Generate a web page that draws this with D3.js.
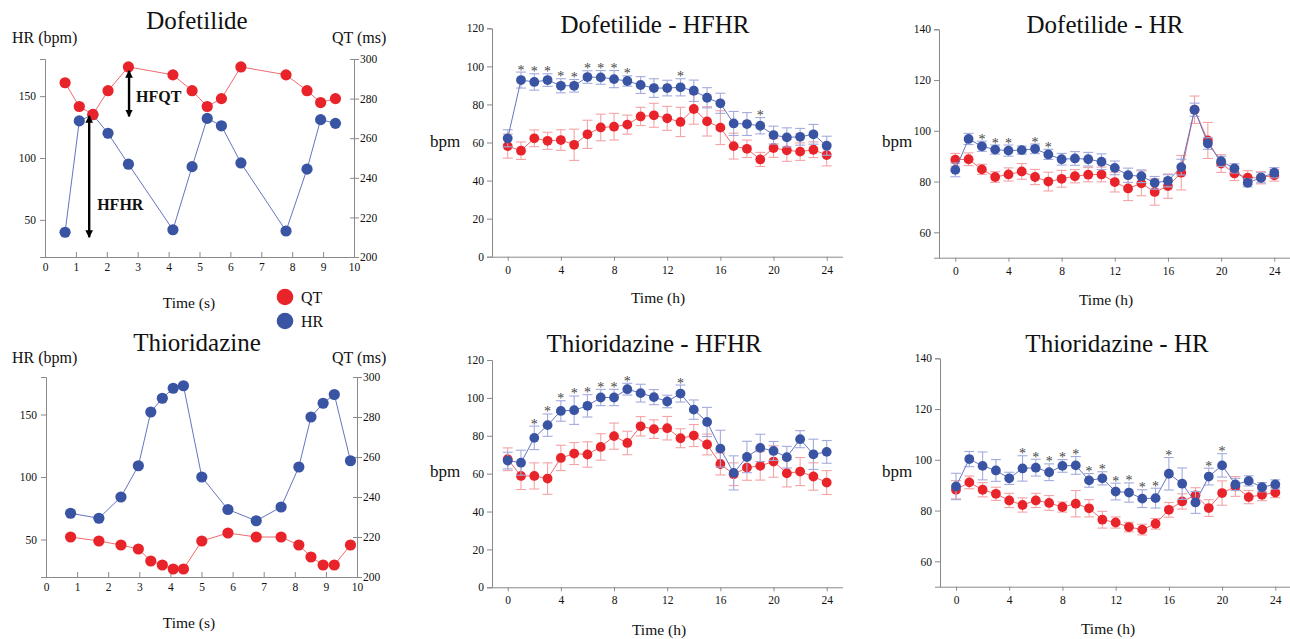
<!DOCTYPE html>
<html>
<head>
<meta charset="utf-8">
<script src="https://cdn.jsdelivr.net/npm/d3@7/dist/d3.min.js"></script>
<style>
  body { margin: 0; background: #fff; }
  text { font-family: "Liberation Serif", "Times New Roman", serif; fill: #111; }
</style>
</head>
<body>
<svg id="chart" width="1290" height="639"></svg>
<script>
// ---- data ----
// single-beat traces (left column)
const dofTime = [0.65, 1.11, 1.55, 2.04, 2.70, 4.14, 4.76, 5.25, 5.71, 6.34, 7.80, 8.48, 8.92, 9.40];
const dofHR   = [40, 130, 135, 120, 95, 42, 93, 132, 126, 96, 41, 91, 131, 128];
const dofQT   = [288, 276, 272, 284, 296, 292, 284, 276, 280, 296, 292, 284, 278, 280];

const thioTime = [0.79, 1.70, 2.41, 2.97, 3.37, 3.74, 4.09, 4.42, 5.01, 5.85, 6.76, 7.56, 8.13, 8.52, 8.91, 9.27, 9.79];
const thioHR   = [71, 67, 84, 109, 152, 163, 171, 173, 100, 74, 65, 76, 108, 148, 159, 166, 113];
const thioQT   = [220, 218, 216, 214, 208, 206, 204, 204, 218, 222, 220, 220, 216, 210, 206, 206, 216];

// hourly means (blue / red) with error bars
const hours = [0, 1, 2, 3, 4, 5, 6, 7, 8, 9, 10, 11, 12, 13, 14, 15, 16, 17, 18, 19, 20, 21, 22, 23, 24];
const hourTicks = [0, 4, 8, 12, 16, 20, 24];

const dofHfhrBlue    = [62.2, 92.8, 91.8, 92.8, 89.8, 89.8, 94.4, 94.2, 93.3, 92.3, 90.2, 88.6, 88.6, 89.0, 87.2, 83.5, 80.6, 70.0, 69.7, 68.8, 63.9, 62.7, 63.0, 64.3, 58.3];
const dofHfhrBlueErr = [4.5, 4.2, 4.3, 3.3, 3.7, 3.3, 3.3, 3.6, 4.5, 2.7, 4.4, 4.9, 4.1, 4.5, 5.6, 5.3, 5.3, 6.3, 6.0, 4.3, 4.7, 5.0, 4.4, 5.2, 5.0];
const dofHfhrRed     = [58.1, 55.7, 62.2, 60.9, 61.3, 58.8, 64.3, 67.9, 68.3, 69.4, 73.7, 74.3, 72.7, 70.8, 77.6, 71.1, 67.8, 58.1, 56.7, 51.1, 57.1, 55.9, 55.2, 56.2, 53.4];
const dofHfhrRedErr  = [6.3, 4.6, 4.4, 4.5, 5.4, 8.2, 7.4, 7.0, 7.0, 5.0, 4.8, 6.3, 6.3, 7.7, 8.0, 7.7, 8.9, 6.8, 4.6, 3.7, 4.9, 5.8, 4.6, 4.1, 5.7];
const dofHfhrStars   = [1, 2, 3, 4, 5, 6, 7, 8, 9, 13, 19];

const thioHfhrBlue    = [66.9, 65.8, 78.9, 85.6, 93.1, 93.5, 95.8, 100.2, 100.2, 104.6, 102.5, 100.4, 98.1, 102.3, 93.8, 87.3, 73.2, 60.4, 68.8, 73.6, 72.0, 68.7, 78.2, 70.2, 71.5];
const thioHfhrBlueErr = [4.4, 6.6, 6.2, 5.9, 5.4, 7.5, 5.9, 4.3, 4.3, 3.1, 4.7, 4.0, 3.3, 4.5, 5.1, 7.7, 9.7, 9.0, 8.3, 7.2, 5.0, 5.7, 4.5, 8.0, 6.0];
const thioHfhrRed     = [67.6, 58.8, 58.8, 57.4, 68.3, 70.6, 70.1, 74.1, 79.8, 76.2, 85.0, 83.5, 84.0, 78.7, 80.1, 75.4, 65.1, 59.7, 63.2, 64.1, 66.4, 60.2, 61.1, 58.5, 55.3];
const thioHfhrRedErr  = [6.0, 7.2, 6.9, 8.3, 6.7, 5.8, 6.7, 7.0, 6.9, 6.2, 5.1, 4.9, 6.2, 5.0, 5.8, 5.5, 5.8, 6.0, 6.7, 7.5, 8.3, 7.2, 7.4, 7.2, 6.3];
const thioHfhrStars   = [2, 3, 4, 5, 6, 7, 8, 9, 13];

const dofHrBlue    = [84.6, 96.8, 93.9, 92.6, 92.2, 92.4, 92.9, 90.7, 88.8, 89.1, 88.8, 87.8, 85.4, 82.5, 82.1, 79.5, 80.3, 85.7, 108.3, 95.0, 88.0, 85.2, 79.5, 81.5, 83.5];
const dofHrBlueErr = [2.7, 2.2, 2.0, 1.8, 2.2, 1.6, 1.9, 2.0, 2.3, 2.7, 2.7, 3.1, 2.7, 2.8, 2.5, 2.5, 2.4, 3.1, 2.6, 2.3, 2.0, 1.8, 1.6, 2.0, 2.0];
const dofHrRed     = [88.6, 88.8, 84.8, 81.8, 82.8, 84.0, 81.8, 80.0, 81.1, 82.1, 82.7, 82.8, 79.8, 77.3, 79.3, 75.9, 78.2, 83.5, 108.3, 96.2, 87.1, 83.2, 81.5, 81.5, 82.5];
const dofHrRedErr  = [2.5, 2.5, 2.0, 2.1, 2.6, 3.1, 3.0, 3.7, 3.3, 2.6, 2.8, 2.9, 3.9, 4.8, 4.9, 5.2, 4.8, 6.8, 5.4, 7.1, 3.5, 2.8, 2.8, 2.4, 2.3];
const dofHrStars   = [2, 3, 4, 6, 7];

const thioHrBlue    = [89.5, 100.3, 97.6, 95.8, 92.7, 96.6, 96.9, 95.1, 97.6, 97.8, 91.9, 92.7, 87.5, 87.1, 84.7, 84.9, 94.5, 90.6, 83.2, 93.4, 97.8, 90.3, 91.7, 89.2, 90.3];
const thioHrBlueErr = [5.2, 3.0, 5.5, 4.3, 2.4, 5.0, 3.3, 3.3, 2.5, 3.5, 2.7, 2.6, 3.3, 3.8, 3.5, 3.9, 6.4, 6.2, 4.3, 3.3, 4.6, 2.4, 2.0, 1.8, 1.8];
const thioHrRed     = [88.2, 91.1, 88.2, 86.6, 84.0, 82.2, 84.0, 83.0, 81.4, 82.7, 80.9, 76.4, 75.3, 73.5, 72.5, 74.8, 80.3, 83.6, 86.0, 81.0, 86.9, 89.5, 85.3, 86.2, 87.1];
const thioHrRedErr  = [3.6, 2.5, 2.8, 2.6, 2.8, 2.8, 2.8, 2.9, 2.0, 5.2, 3.4, 3.3, 2.2, 1.9, 2.1, 2.1, 2.9, 3.0, 3.0, 3.3, 4.8, 3.9, 2.6, 2.3, 2.0];
const thioHrStars   = [5, 6, 7, 8, 9, 10, 11, 12, 13, 14, 15, 16, 19, 20];

// ---- colours ----
const RED = "#e8242a", BLUE = "#3a54a4";
const RED_LINE = "#f06a6e", BLUE_LINE = "#6674c2";
const RED_ERR = "#f4a3a6", BLUE_ERR = "#a3abdd";
const AXIS = "#8a8a8a";

const svg = d3.select("#chart");

// double arrow heads
const defs = svg.append("defs");
defs.append("marker")
    .attr("id", "head")
    .attr("viewBox", "0 0 10 10")
    .attr("refX", 9).attr("refY", 5)
    .attr("markerWidth", 3.2).attr("markerHeight", 3.2)
    .attr("orient", "auto-start-reverse")
  .append("path")
    .attr("d", "M0,0 L10,5 L0,10 z")
    .attr("fill", "#000");

function styleAxis(g) {
  g.select(".domain").attr("stroke", AXIS);
  g.selectAll(".tick line").attr("stroke", AXIS);
  g.selectAll(".tick text").attr("fill", "#111");
}

function label(txt, x, y, size, anchor, weight) {
  svg.append("text")
    .attr("x", x).attr("y", y)
    .attr("font-size", size)
    .attr("text-anchor", anchor || "middle")
    .attr("font-weight", weight || "normal")
    .text(txt);
}

// ---- left column: single beat panels with two y axes ----
function drawWave(cfg) {
  const x = d3.scaleLinear().domain([0, 10]).range(cfg.xr);
  const yHR = d3.scaleLinear().domain([20, 180]).range(cfg.yr);
  const yQT = d3.scaleLinear().domain([200, 300]).range(cfg.yr);
  const g = svg.append("g");

  const gx = g.append("g")
    .attr("transform", `translate(0,${cfg.yr[0]})`)
    .call(d3.axisBottom(x).ticks(10).tickSizeOuter(0).tickSize(1).tickPadding(5))
    .attr("font-size", 11.5);
  gx.selectAll(".tick line").attr("y1", -5).attr("y2", 1);
  styleAxis(gx);

  const gl = g.append("g")
    .attr("transform", `translate(${cfg.xr[0]},0)`)
    .call(d3.axisLeft(yHR).tickValues([50, 100, 150]).tickSizeOuter(0).tickSize(5).tickPadding(4))
    .attr("font-size", 11.5);
  styleAxis(gl);

  const gr = g.append("g")
    .attr("transform", `translate(${cfg.xr[1]},0)`)
    .call(d3.axisRight(yQT).tickValues([200, 220, 240, 260, 280, 300]).tickSizeOuter(0).tickSize(5).tickPadding(1))
    .attr("font-size", 11.5);
  gr.selectAll(".tick line").attr("x1", -4).attr("x2", 5);
  styleAxis(gr);

  const series = [
    { v: cfg.hr, y: yHR, c: BLUE, lc: BLUE_LINE },
    { v: cfg.qt, y: yQT, c: RED, lc: RED_LINE }
  ];

  series.forEach(s => {
    const pts = cfg.time.map((t, i) => [t, s.v[i]]);
    g.append("path")
      .datum(pts)
      .attr("fill", "none")
      .attr("stroke", s.lc)
      .attr("stroke-width", 1)
      .attr("d", d3.line().x(d => x(d[0])).y(d => s.y(d[1])));
    g.selectAll(null).data(pts).enter().append("circle")
      .attr("cx", d => x(d[0])).attr("cy", d => s.y(d[1]))
      .attr("r", 5.6)
      .attr("fill", s.c);
  });

  (cfg.arrows || []).forEach(a => {
    const ys = a.axis === "qt" ? yQT : yHR;
    g.append("line")
      .attr("x1", x(a.t)).attr("x2", x(a.t))
      .attr("y1", ys(a.from)).attr("y2", ys(a.to))
      .attr("stroke", "#000").attr("stroke-width", 2.4)
      .attr("marker-start", "url(#head)").attr("marker-end", "url(#head)");
    g.append("text")
      .attr("x", x(a.t) + a.dx).attr("y", ys(a.labelAt) + 5)
      .attr("font-size", 16).attr("font-weight", "bold")
      .text(a.name);
  });

  label(cfg.title, cfg.titleX, cfg.titleY, 25);
  label("HR (bpm)", 12, cfg.unitY, 16, "start");
  label("QT (ms)", 332, cfg.unitY, 16, "start");
  label("Time (s)", 189, cfg.timeY, 15.5);
}

drawWave({
  title: "Dofetilide", titleX: 197, titleY: 29, unitY: 43, timeY: 308,
  xr: [45, 354], yr: [257, 59],
  time: dofTime, hr: dofHR, qt: dofQT,
  arrows: [
    { name: "HFHR", axis: "hr", t: 1.43, from: 36, to: 134, dx: 8, labelAt: 62 },
    { name: "HFQT", axis: "qt", t: 2.72, from: 294, to: 271, dx: 7, labelAt: 281 }
  ]
});

drawWave({
  title: "Thioridazine", titleX: 197, titleY: 351, unitY: 363, timeY: 628,
  xr: [46, 357], yr: [577, 377],
  time: thioTime, hr: thioHR, qt: thioQT
});

// legend
[["QT", RED, 297], ["HR", BLUE, 321]].forEach(([name, col, cy]) => {
  svg.append("circle").attr("cx", 285).attr("cy", cy).attr("r", 8.3).attr("fill", col);
  label(name, 301, cy + 6, 16, "start");
});

// ---- middle / right columns: hourly panels ----
function drawHourly(cfg) {
  const x = d3.scaleLinear().domain([0, 24]).range(cfg.xr);
  const y = d3.scaleLinear().domain(cfg.ydom).range(cfg.yr);
  const g = svg.append("g");

  const gx = g.append("g")
    .attr("transform", `translate(0,${cfg.yr[0]})`)
    .call(d3.axisBottom(x).tickValues(hourTicks).tickSizeOuter(0).tickSize(4).tickPadding(5))
    .attr("font-size", 11.5);
  gx.select(".domain").attr("d", `M${cfg.axisX},0.5H${cfg.xEnd}`);
  styleAxis(gx);

  const gy = g.append("g")
    .attr("transform", `translate(${cfg.axisX},0)`)
    .call(d3.axisLeft(y).tickValues(cfg.yticks).tickSizeOuter(0).tickSize(5).tickPadding(3))
    .attr("font-size", 11.5);
  styleAxis(gy);

  const groups = [
    { v: cfg.red, e: cfg.redErr, c: RED, lc: RED_LINE, ec: RED_ERR },
    { v: cfg.blue, e: cfg.blueErr, c: BLUE, lc: BLUE_LINE, ec: BLUE_ERR }
  ];

  groups.forEach(s => {
    const pts = hours.map((h, i) => ({ h: h, v: s.v[i], e: s.e[i] }));
    const eb = g.append("g").attr("stroke", s.ec).attr("stroke-width", 1.1);
    pts.forEach(d => {
      const cx = x(d.h), yt = y(d.v + d.e), yb = y(d.v - d.e);
      eb.append("line").attr("x1", cx).attr("x2", cx).attr("y1", yt).attr("y2", yb);
      eb.append("line").attr("x1", cx - 5).attr("x2", cx + 5).attr("y1", yt).attr("y2", yt);
      eb.append("line").attr("x1", cx - 5).attr("x2", cx + 5).attr("y1", yb).attr("y2", yb);
    });
    g.append("path")
      .datum(pts)
      .attr("fill", "none")
      .attr("stroke", s.lc)
      .attr("stroke-width", 1)
      .attr("d", d3.line().x(d => x(d.h)).y(d => y(d.v)));
    g.selectAll(null).data(pts).enter().append("circle")
      .attr("cx", d => x(d.h)).attr("cy", d => y(d.v))
      .attr("r", 4.9)
      .attr("fill", s.c);
  });

  // significance marks above the blue error bars
  g.selectAll(null).data(cfg.stars).enter().append("text")
    .attr("x", h => x(h))
    .attr("y", h => {
      const i = hours.indexOf(h);
      return y(cfg.blue[i] + cfg.blueErr[i]) + 2.5;
    })
    .attr("text-anchor", "middle")
    .attr("font-size", 14)
    .style("fill", "#444")
    .text("*");

  label(cfg.title, cfg.titleX, cfg.titleY, 25);
  label("bpm", cfg.bpmX, cfg.bpmY, 17, "start");
  label("Time (h)", cfg.timeX, cfg.timeY, 15.5);
}

drawHourly({
  title: "Dofetilide - HFHR", titleX: 655, titleY: 33,
  axisX: 492, xEnd: 843, xr: [507.7, 826.7], yr: [256.7, 28.3],
  ydom: [0, 120], yticks: [0, 20, 40, 60, 80, 100, 120],
  blue: dofHfhrBlue, blueErr: dofHfhrBlueErr, red: dofHfhrRed, redErr: dofHfhrRedErr, stars: dofHfhrStars,
  bpmX: 430, bpmY: 147, timeX: 658, timeY: 303
});

drawHourly({
  title: "Thioridazine - HFHR", titleX: 654, titleY: 352,
  axisX: 492, xEnd: 843, xr: [507.7, 826.7], yr: [587.3, 360],
  ydom: [0, 120], yticks: [0, 20, 40, 60, 80, 100, 120],
  blue: thioHfhrBlue, blueErr: thioHfhrBlueErr, red: thioHfhrRed, redErr: thioHfhrRedErr, stars: thioHfhrStars,
  bpmX: 430, bpmY: 477, timeX: 659, timeY: 635
});

drawHourly({
  title: "Dofetilide - HR", titleX: 1105, titleY: 33,
  axisX: 939, xEnd: 1290, xr: [955.3, 1274.3], yr: [257.7, 29.3],
  ydom: [50, 140], yticks: [60, 80, 100, 120, 140],
  blue: dofHrBlue, blueErr: dofHrBlueErr, red: dofHrRed, redErr: dofHrRedErr, stars: dofHrStars,
  bpmX: 882, bpmY: 147, timeX: 1106, timeY: 305
});

drawHourly({
  title: "Thioridazine - HR", titleX: 1117, titleY: 352,
  axisX: 940, xEnd: 1290, xr: [956, 1275.3], yr: [586.7, 358.3],
  ydom: [50, 140], yticks: [60, 80, 100, 120, 140],
  blue: thioHrBlue, blueErr: thioHrBlueErr, red: thioHrRed, redErr: thioHrRedErr, stars: thioHrStars,
  bpmX: 882, bpmY: 477, timeX: 1108, timeY: 634
});
</script>
</body>
</html>
